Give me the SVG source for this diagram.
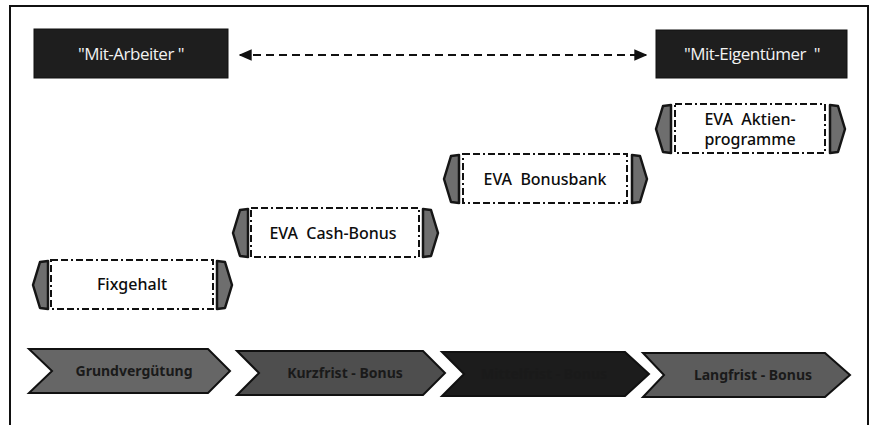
<svg xmlns="http://www.w3.org/2000/svg" width="877" height="425" viewBox="0 0 877 425">
  <style>
    .frame { fill: none; stroke: #111; stroke-width: 2; }
    .role rect { fill: #1e1e1e; stroke: #111; stroke-width: 1; }
    .role text { fill: #f2f2f2; font-family: "Open Sans", "Noto Sans", sans-serif; font-size: 17px; text-anchor: middle; letter-spacing: -0.5px; }
    .box { fill: #fff; stroke: #111; stroke-width: 2; stroke-dasharray: 7 3 7 3 2 3; }
    .tab { fill: #6e6e6e; stroke: #151515; stroke-width: 2.5; stroke-linejoin: round; }
    .label { fill: #0d0d0d; font-family: "Noto Sans", "Open Sans", sans-serif; font-size: 16px; font-weight: 500; text-anchor: middle; white-space: pre; }
    .chev { stroke: #111; stroke-width: 2; stroke-linejoin: miter; }
    .chev-text { fill: #1a1a1a; font-family: "Noto Sans", sans-serif; font-size: 14px; font-weight: bold; text-anchor: middle; }
    .link { fill: none; stroke: #111; stroke-width: 2; stroke-dasharray: 8 5; }
  </style>
  <defs>
    <marker id="arrow" viewBox="0 0 10 10" refX="9" refY="5" markerWidth="6.5" markerHeight="6.5" orient="auto-start-reverse" markerUnits="strokeWidth">
      <path d="M0,0.5 L10,5 L0,9.5 Z" fill="#111"/>
    </marker>
  </defs>

  <rect width="877" height="425" fill="#fff"/>
  <!-- open frame: left, top and right edges -->
  <path class="frame" d="M10,425 V6 H868 V425"/>

  <!-- role boxes -->
  <g id="mit-arbeiter" class="role">
    <rect x="34" y="29" width="194" height="49"/>
    <text x="131" y="60">"Mit-Arbeiter "</text>
  </g>
  <g id="mit-eigentuemer" class="role">
    <rect x="656" y="30" width="191" height="48"/>
    <text x="752" y="60" xml:space="preserve">"Mit-Eigentümer  "</text>
  </g>

  <g id="connectors">
    <line class="link" x1="240" y1="55" x2="646" y2="55" marker-start="url(#arrow)" marker-end="url(#arrow)"/>
  </g>

  <!-- staircase of compensation elements -->
  <g id="fixgehalt">
    <polygon class="tab" points="48,261 40,262 33,285 40,308 48,309"/>
    <rect class="box" x="51" y="260" width="162" height="49"/>
    <polygon class="tab" points="217,261 225,262 232,285 225,308 217,309"/>
    <text class="label" x="132" y="290">Fixgehalt</text>
  </g>
  <g id="eva-cash-bonus">
    <polygon class="tab" points="248,209 240,210 233,233 240,256 248,257"/>
    <rect class="box" x="251" y="208" width="168" height="49"/>
    <polygon class="tab" points="423,209 431,210 438,233 431,256 423,257"/>
    <text class="label" x="333" y="239" xml:space="preserve">EVA  Cash-Bonus</text>
  </g>
  <g id="eva-bonusbank">
    <polygon class="tab" points="459,155 451,156 444,179 451,202 459,203"/>
    <rect class="box" x="463" y="154" width="164" height="49"/>
    <polygon class="tab" points="632,155 640,156 647,179 640,202 632,203"/>
    <text class="label" x="545" y="185" xml:space="preserve">EVA  Bonusbank</text>
  </g>
  <g id="eva-aktienprogramme">
    <polygon class="tab" points="671,105 663,106 656,129 663,152 671,153"/>
    <rect class="box" x="675" y="104" width="150" height="49"/>
    <polygon class="tab" points="830,105 838,106 845,129 838,152 830,153"/>
    <text class="label" x="750" y="125" xml:space="preserve">EVA  Aktien-</text>
    <text class="label" x="750" y="145">programme</text>
  </g>

  <!-- process chevrons -->
  <g id="grundverguetung">
    <polygon class="chev" fill="#666" points="29,349 208,349 230,371 208,393 29,393 52,371"/>
    <text class="chev-text" x="134" y="376">Grundvergütung</text>
  </g>
  <g id="kurzfrist-bonus">
    <polygon class="chev" fill="#4e4e4e" points="237,351 423,351 445,373 423,395 237,395 259,373"/>
    <text class="chev-text" x="345" y="378">Kurzfrist - Bonus</text>
  </g>
  <g id="mittelfrist-bonus">
    <polygon class="chev" fill="#1c1c1c" points="442,352 625,352 649,374 625,396 442,396 464,374"/>
    <text class="chev-text" x="544" y="379" fill="#0d0d0d">Mittelfrist - Bonus</text>
  </g>
  <g id="langfrist-bonus">
    <polygon class="chev" fill="#5c5c5c" points="643,353 825,353 850,375 825,397 643,397 664,375"/>
    <text class="chev-text" x="753" y="380">Langfrist - Bonus</text>
  </g>
</svg>
